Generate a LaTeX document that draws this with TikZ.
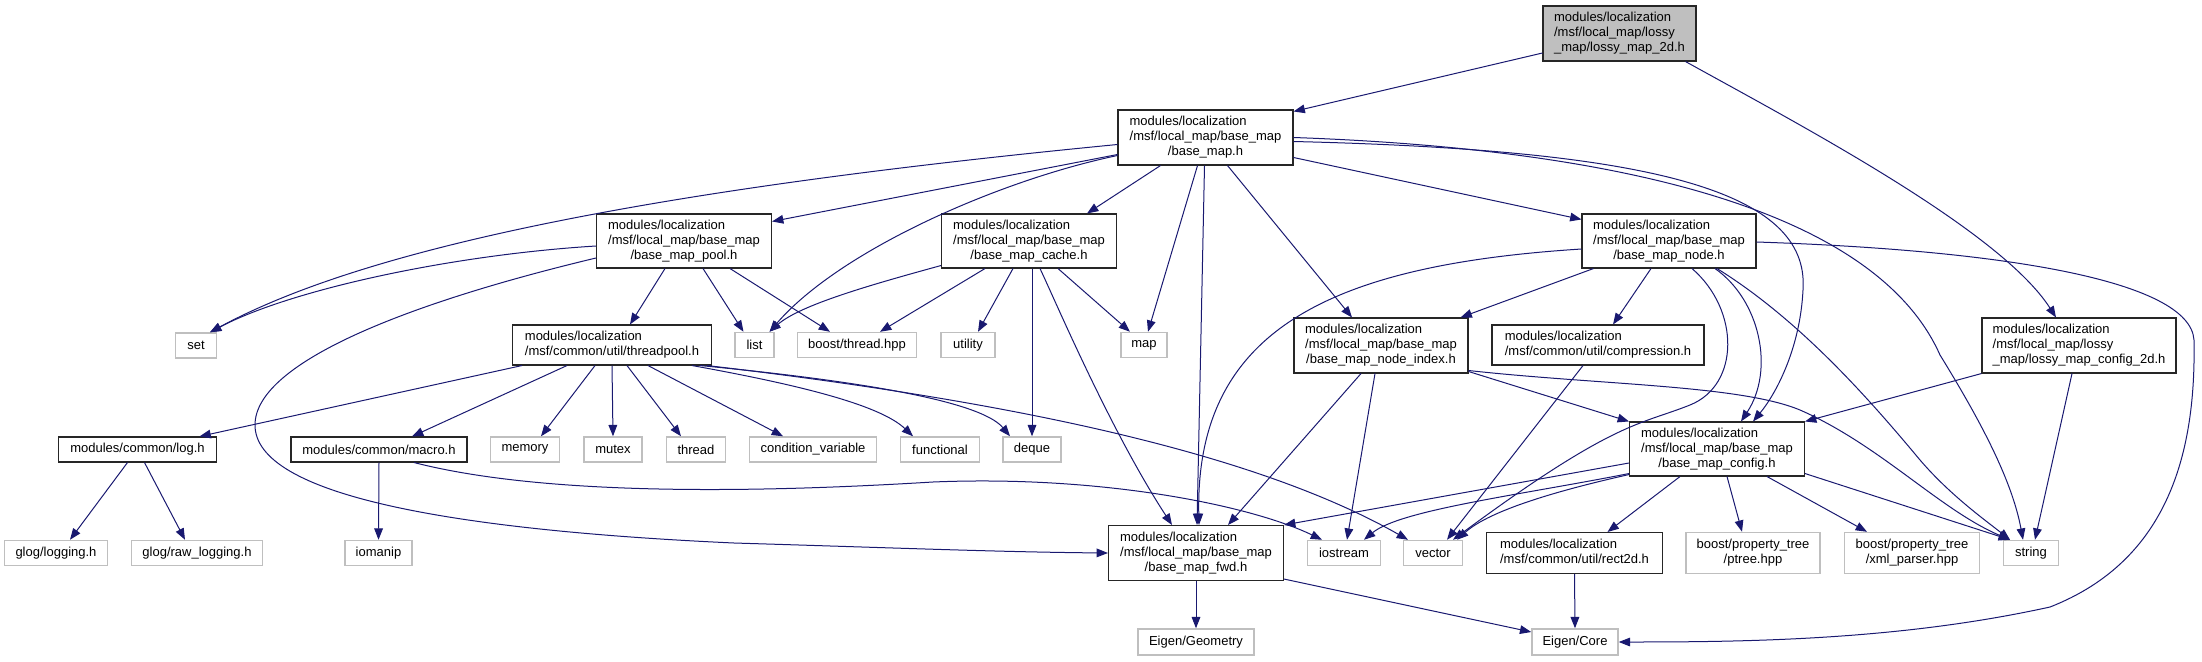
\documentclass[tikz,border=0pt]{standalone}
\usepackage{fontspec}
\setmainfont{Liberation Sans}
\usetikzlibrary{arrows.meta, calc}
\definecolor{edgeblue}{HTML}{191970}
\definecolor{sysgray}{HTML}{BFBFBF}
\newcommand{\lbl}{\fontsize{9.75}{11.25}\selectfont}
\newcommand{\threeline}[3]{\begin{tabular}{@{}l@{}}#1\\#2\\\multicolumn{1}{@{}c@{}}{#3}\end{tabular}}
\newcommand{\twoline}[2]{\begin{tabular}{@{}l@{}}#1\\\multicolumn{1}{@{}c@{}}{#2}\end{tabular}}

\begin{document}
\begin{tikzpicture}[x=0.75pt, y=-0.75pt,
        hdr/.style={draw=black!85, line width=0.8pt, fill=white, inner sep=0pt, font=\lbl},
        sys/.style={draw=sysgray, line width=1.1pt, fill=white, inner sep=0pt, font=\lbl},
        rootbox/.style={hdr, fill=sysgray},
        sz/.style 2 args={minimum width=#1*0.75pt, minimum height=#2*0.75pt},
        line/.style={draw=edgeblue, line width=0.75pt, -{Triangle[length=8.5pt, width=6.5pt]}}]
        \useasboundingbox (0,0) rectangle (2202,661);

        \node [rootbox, sz={153}{55}] (lossy2d) at (1619.5,33.5) {\threeline{modules/localization}{/msf/local\_map/lossy}{\_map/lossy\_map\_2d.h}};
        \node [hdr, sz={175}{55}] (basemap) at (1205.5,137.5) {\threeline{modules/localization}{/msf/local\_map/base\_map}{/base\_map.h}};
        \node [hdr, sz={175}{54}] (pool) at (684,241) {\threeline{modules/localization}{/msf/local\_map/base\_map}{/base\_map\_pool.h}};
        \node [hdr, sz={175}{54}] (cache) at (1029,241) {\threeline{modules/localization}{/msf/local\_map/base\_map}{/base\_map\_cache.h}};
        \node [hdr, sz={174}{54}] (mapnode) at (1669,241) {\threeline{modules/localization}{/msf/local\_map/base\_map}{/base\_map\_node.h}};
        \node [hdr, sz={174}{55}] (nodeindex) at (1381,345.5) {\threeline{modules/localization}{/msf/local\_map/base\_map}{/base\_map\_node\_index.h}};
        \node [hdr, sz={212}{40}] (compress) at (1598,345) {\twoline{modules/localization}{/msf/common/util/compression.h}};
        \node [hdr, sz={194}{55}] (cfg2d) at (2079,345.5) {\threeline{modules/localization}{/msf/local\_map/lossy}{\_map/lossy\_map\_config\_2d.h}};
        \node [hdr, sz={199}{40}] (tpool) at (612,345) {\twoline{modules/localization}{/msf/common/util/threadpool.h}};
        \node [sys, sz={41}{25}] (set) at (196,345.5) {set};
        \node [sys, sz={39}{25}] (list) at (754.5,345) {list};
        \node [sys, sz={119}{25}] (bthread) at (857,345) {boost/thread.hpp};
        \node [sys, sz={54}{25}] (utility) at (968,345) {utility};
        \node [sys, sz={46}{25}] (map) at (1144,345) {map};
        \node [hdr, sz={158}{25}] (logh) at (137.5,449.5) {modules/common/log.h};
        \node [hdr, sz={176}{25}] (macroh) at (379,449.5) {modules/common/macro.h};
        \node [sys, sz={69}{25}] (memory) at (525,449.5) {memory};
        \node [sys, sz={58}{25}] (mutex) at (613,449.5) {mutex};
        \node [sys, sz={59}{25}] (thread) at (696,449.5) {thread};
        \node [sys, sz={127}{25}] (condvar) at (813,449.5) {condition\_variable};
        \node [sys, sz={79}{25}] (functional) at (940,449.5) {functional};
        \node [sys, sz={58}{25}] (deque) at (1032,449.5) {deque};
        \node [hdr, sz={175}{54}] (config) at (1717,449) {\threeline{modules/localization}{/msf/local\_map/base\_map}{/base\_map\_config.h}};
        \node [sys, sz={103}{25}] (glog) at (56,553) {glog/logging.h};
        \node [sys, sz={131}{25}] (rawlog) at (197,553) {glog/raw\_logging.h};
        \node [sys, sz={67}{25}] (iomanip) at (378.5,553) {iomanip};
        \node [hdr, sz={175}{55}] (fwd) at (1196,553) {\threeline{modules/localization}{/msf/local\_map/base\_map}{/base\_map\_fwd.h}};
        \node [sys, sz={73}{25}] (iostream) at (1344,553) {iostream};
        \node [sys, sz={59}{25}] (vector) at (1433,553) {vector};
        \node [hdr, sz={176}{41}] (rect) at (1574.5,553) {\twoline{modules/localization}{/msf/common/util/rect2d.h}};
        \node [sys, sz={134}{41}] (ptree) at (1753,553) {\twoline{boost/property\_tree}{/ptree.hpp}};
        \node [sys, sz={135}{41}] (xmlparser) at (1912,553) {\twoline{boost/property\_tree}{/xml\_parser.hpp}};
        \node [sys, sz={55}{25}] (string) at (2031,553) {string};
        \node [sys, sz={116}{26}] (geometry) at (1196,642) {Eigen/Geometry};
        \node [sys, sz={86}{26}] (core) at (1575,642) {Eigen/Core};

        \path [line] ($(lossy2d.west)+(0,19.5)$) -- ($(basemap.north east)+(0,2)$);
        \path [line] ($(lossy2d.south)+(66,0)$) .. controls (1800,125) and (2000,230) .. ($(cfg2d.north)+(-23,0)$);

        \path [line] ($(basemap.west)+(0,7)$) .. controls (700,185) and (380,240) .. ($(set.north)+(14,0)$);
        \path [line] ($(basemap.west)+(0,17)$) -- ($(pool.north east)+(0,8)$);
        \path [line] ($(basemap.west)+(0,18)$) .. controls (1000,180) and (840,250) .. ($(list.north)+(15,0)$);
        \path [line] ($(basemap.south)+(-45,0)$) -- ($(cache.north)+(58,0)$);
        \path [line] ($(basemap.south)+(-8,0)$) -- ($(map.north)+(4,0)$);
        \path [line] ($(basemap.south)+(-1,0)$) -- ($(fwd.north)+(1,0)$);
        \path [line] ($(basemap.south)+(22,0)$) -- ($(nodeindex.north)+(-29,0)$);
        \path [line] ($(basemap.east)+(0,20)$) -- ($(mapnode.north west)+(0,6)$);
        \path [line] ($(basemap.east)+(0,4)$) .. controls (1650,150) and (1810,190) .. (1803,290) .. controls (1800,350) and (1775,395) .. ($(config.north)+(36,0)$);
        \path [line] (basemap.east) .. controls (1650,150) and (1880,220) .. (1940,355) .. controls (1980,420) and (2012,480) .. ($(string.north)+(-8,0)$);

        \path [line] ($(pool.west)+(0,5)$) .. controls (450,255) and (290,290) .. ($(set.north)+(14,0)$);
        \path [line] ($(pool.west)+(0,17)$) .. controls (420,300) and (255,360) .. (255,425) .. controls (255,495) and (450,530) .. (734,543) .. controls (900,548) and (1000,552) .. (fwd.west);
        \path [line] ($(pool.south)+(-19,0)$) -- ($(tpool.north)+(18,0)$);
        \path [line] ($(pool.south)+(19,0)$) -- ($(list.north)+(-11,0)$);
        \path [line] ($(pool.south)+(46,0)$) -- ($(bthread.north)+(-27,0)$);

        \path [line] ($(cache.south west)+(0,-3)$) .. controls (870,285) and (800,305) .. ($(list.north)+(15,0)$);
        \path [line] ($(cache.south)+(-44,0)$) -- ($(bthread.north)+(23,0)$);
        \path [line] ($(cache.south)+(-16,0)$) -- ($(utility.north)+(10,0)$);
        \path [line] ($(cache.south)+(3,0)$) -- (deque.north);
        \path [line] ($(cache.south)+(11,0)$) .. controls (1055,300) and (1110,430) .. ($(fwd.north)+(-24,0)$);
        \path [line] ($(cache.south)+(29,0)$) -- ($(map.north)+(-14,0)$);

        \path [line] ($(mapnode.south west)+(12,0)$) -- ($(nodeindex.north east)+(-8,0)$);
        \path [line] ($(mapnode.west)+(0,8)$) .. controls (1330,265) and (1195,330) .. ($(fwd.north)+(3,0)$);
        \path [line] ($(mapnode.south)+(-18,0)$) -- ($(compress.north)+(15,0)$);
        \path [line] ($(mapnode.south)+(23,0)$) .. controls (1740,310) and (1740,385) .. (1690,405) .. controls (1640,425) and (1615,420) .. ($(vector.north)+(20,0)$);
        \path [line] ($(mapnode.south)+(46,0)$) .. controls (1760,300) and (1775,370) .. ($(config.north)+(24,0)$);
        \path [line] ($(mapnode.south)+(48,0)$) .. controls (1800,320) and (1870,400) .. (1920,460) .. controls (1950,495) and (1985,520) .. ($(string.north)+(-21,0)$);
        \path [line] ($(mapnode.east)+(0,1)$) .. controls (2000,250) and (2190,280) .. (2194,340) .. controls (2196,450) and (2170,560) .. (2050,607) .. controls (1900,640) and (1750,642) .. (core.east);

        \path [line] ($(nodeindex.south)+(-20,0)$) -- ($(fwd.north)+(32,0)$);
        \path [line] ($(nodeindex.south)+(-6,0)$) -- ($(iostream.north)+(3,0)$);
        \path [line] ($(nodeindex.east)+(0,26)$) -- (config.north west);
        \path [line] ($(nodeindex.east)+(0,25)$) .. controls (1600,385) and (1740,385) .. (1800,410) .. controls (1880,445) and (1940,510) .. ($(string.north)+(-21,0)$);

        \path [line] ($(compress.south)+(-15,0)$) -- ($(vector.north)+(14,0)$);

        \path [line] ($(config.west)+(0,14)$) -- (fwd.north east);
        \path [line] ($(config.south west)+(0,-3)$) .. controls (1520,495) and (1400,510) .. ($(iostream.north)+(20,0)$);
        \path [line] ($(config.south west)+(0,-2)$) .. controls (1560,490) and (1490,510) .. ($(vector.north)+(24,0)$);
        \path [line] ($(config.south)+(-37,0)$) -- ($(rect.north)+(33,0)$);
        \path [line] ($(config.south)+(10,0)$) -- ($(ptree.north)+(-11,0)$);
        \path [line] ($(config.south)+(50,0)$) -- ($(xmlparser.north)+(-45,0)$);
        \path [line] ($(config.south east)+(0,-3)$) -- ($(string.north)+(-21,0)$);

        \path [line] ($(tpool.south west)+(10,0)$) -- ($(logh.north)+(62,0)$);
        \path [line] ($(tpool.south)+(-45,0)$) -- ($(macroh.north)+(33,0)$);
        \path [line] ($(tpool.south)+(-17,0)$) -- ($(memory.north)+(16,0)$);
        \path [line] (tpool.south) -- (mutex.north);
        \path [line] ($(tpool.south)+(15,0)$) -- ($(thread.north)+(-15,0)$);
        \path [line] ($(tpool.south)+(36,0)$) -- ($(condvar.north)+(-30,0)$);
        \path [line] ($(tpool.south east)+(-20,0)$) .. controls (800,385) and (880,405) .. ($(functional.north)+(-27,0)$);
        \path [line] ($(tpool.south east)+(-12,0)$) .. controls (850,380) and (980,400) .. ($(deque.north)+(-22,0)$);
        \path [line] ($(tpool.south east)+(-5,0)$) .. controls (1000,400) and (1250,450) .. ($(vector.north)+(-25,0)$);

        \path [line] (macroh.south) -- (iomanip.north);
        \path [line] ($(macroh.south)+(35,0)$) .. controls (560,500) and (800,490) .. (933,482) .. controls (1100,475) and (1250,505) .. ($(iostream.north)+(-22,0)$);
        \path [line] ($(logh.south)+(-10,0)$) -- ($(glog.north)+(14,0)$);
        \path [line] ($(logh.south)+(7,0)$) -- ($(rawlog.north)+(-12,0)$);

        \path [line] (fwd.south) -- (geometry.north);
        \path [line] ($(fwd.south east)+(0,-2)$) -- ($(core.west)+(0,-10)$);
        \path [line] (rect.south) -- (core.north);
        \path [line] (cfg2d.south west) -- (config.north east);
        \path [line] ($(cfg2d.south)+(-7,0)$) -- ($(string.north)+(4,0)$);

    \end{tikzpicture}
\end{document}
